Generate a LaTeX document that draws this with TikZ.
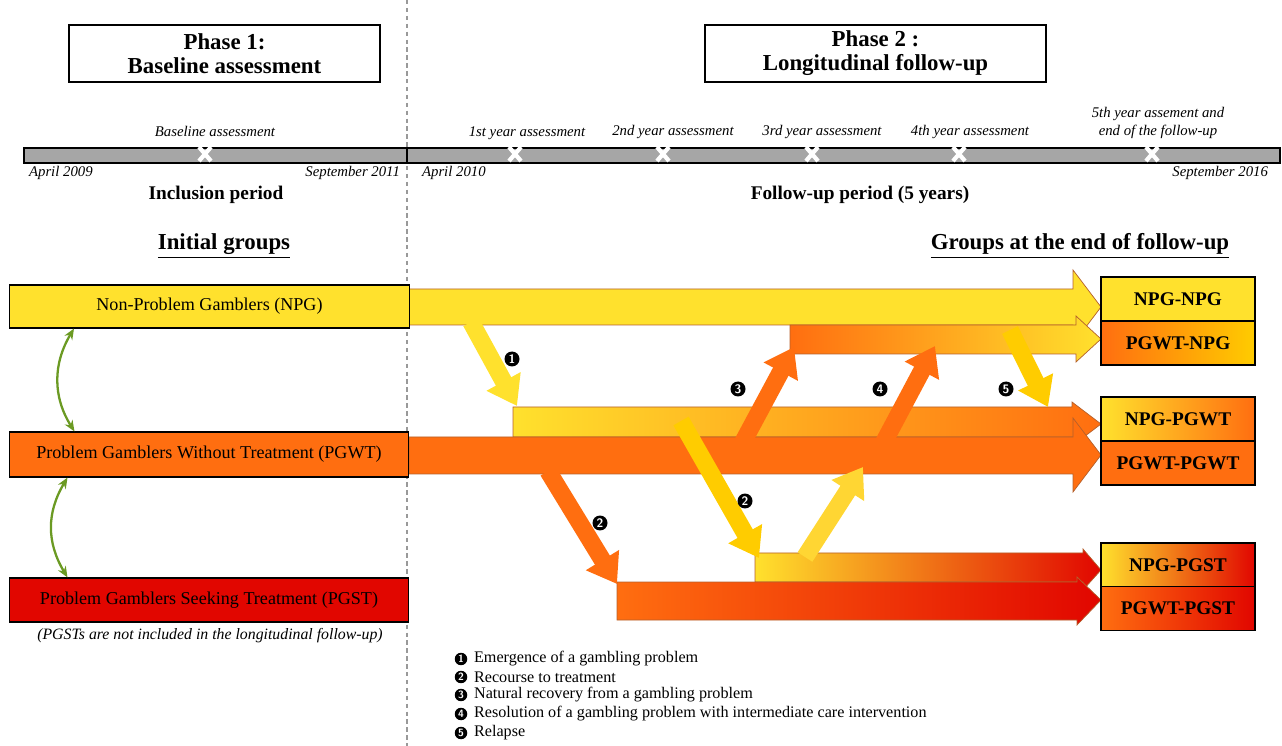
\documentclass[tikz,border=0pt]{standalone}
\usepackage{fontspec}
\setmainfont{Liberation Serif}
\usetikzlibrary{arrows.meta,calc}
\definecolor{cyel}{HTML}{FFE12D}
\definecolor{corg}{HTML}{FF6E10}
\definecolor{cred}{HTML}{E10600}
\definecolor{cgold}{HTML}{FFCC00}
\definecolor{clyel}{HTML}{FFD633}
\definecolor{cgrn}{HTML}{6B9A23}
\definecolor{cbar}{HTML}{A6A6A6}
\definecolor{cedge}{HTML}{B4602C}
\begin{document}
\begin{tikzpicture}[x=0.02cm,y=-0.02cm,
  phasebox/.style={draw, line width=0.9pt, fill=white, minimum height=1.14cm, align=center,
    font=\bfseries\fontsize{13}{13.6}\selectfont},
  grp/.style={draw, line width=0.6pt, minimum width=8cm, minimum height=0.88cm,
    font=\rmfamily\fontsize{10.3}{12}\selectfont},
  rbox/.style={draw, line width=0.7pt, minimum width=3.08cm, minimum height=0.88cm,
    font=\bfseries\fontsize{11}{12}\selectfont},
  ital/.style={font=\itshape\fontsize{8.4}{10}\selectfont, inner sep=1pt},
  head/.style={font=\bfseries\fontsize{11}{12}\selectfont, inner sep=1pt},
  ulhead/.style={font=\bfseries\fontsize{13}{14}\selectfont, inner sep=1pt},
  numc/.style={circle, fill=black, text=white, inner sep=0pt, minimum size=0.3cm,
    font=\sffamily\bfseries\fontsize{7}{7}\selectfont},
  legc/.style={circle, fill=black, text=white, inner sep=0pt, minimum size=0.25cm,
    font=\sffamily\bfseries\fontsize{6}{6}\selectfont},
  leg/.style={font=\rmfamily\fontsize{9.2}{11}\selectfont, inner sep=1pt, anchor=west},
  blk/.style={draw=cedge, line width=0.4pt},
  darr/.style={line width=0.35cm, -{Triangle[length=0.56cm,width=0.74cm]}},
  grnarr/.style={draw=cgrn, line width=1.3pt, {Stealth[length=0.22cm,width=0.18cm]}-{Stealth[length=0.22cm,width=0.18cm]}}
]
\useasboundingbox (0,0) rectangle (1282,746);

% dashed separator
\draw[gray!80, line width=0.8pt, dash pattern=on 2.5pt off 2pt] (407,0) -- (407,746);

% phase boxes
\node[phasebox, minimum width=6.22cm] (ph1) at (224.5,53.5) {Phase 1:\\Baseline assessment};
\node[phasebox, minimum width=6.82cm] (ph2) at (875.5,53.5) {Phase 2 :\\Longitudinal follow-up};

% timeline
\draw[fill=cbar, line width=0.8pt] (24,148) rectangle (407,163);
\draw[fill=cbar, line width=0.8pt] (407,148) rectangle (1280,163);
\foreach \x in {205,515,663,812,959,1152}
  \draw[white, line width=2.4pt] (\x-6,147) -- (\x+6,161) (\x+6,147) -- (\x-6,161);

\node[ital] (t0) at (215,131) {Baseline assessment};
\node[ital] (t1) at (527,133) {1st year assessment};
\node[ital] (t2) at (673,132) {2nd year assessment};
\node[ital] (t3) at (822,132) {3rd year assessment};
\node[ital] (t4) at (970,132) {4th year assessment};
\node[ital, align=center] (t5) at (1158,123) {5th year assement and\\end of the follow-up};
\node[ital, anchor=west] (d1) at (27,173) {April 2009};
\node[ital, anchor=east] (d2) at (402,173) {September 2011};
\node[ital, anchor=west] (d3) at (420,173) {April 2010};
\node[ital, anchor=east] (d4) at (1270,173) {September 2016};
\node[head] (inc) at (216,195) {Inclusion period};
\node[head] (fol) at (860,195) {Follow-up period (5 years)};
\node[ulhead] (ig) at (224,246) {\underline{Initial groups}};
\node[ulhead] (eg) at (1080,246) {\underline{Groups at the end of follow-up}};

% big horizontal arrows
\draw[blk, fill=cyel] (409,289) -- (1073,289) -- (1073,270) -- (1101,307) -- (1073,344) -- (1073,325) -- (409,325) -- cycle;
\draw[blk, left color=corg, right color=cyel] (790,325) -- (1076,325) -- (1076,316) -- (1101,339) -- (1076,362) -- (1076,354) -- (790,354) -- cycle;
\draw[blk, left color=cyel, right color=corg] (513,407) -- (1072,407) -- (1072,402) -- (1101,424) -- (1072,446) -- (1072,437) -- (513,437) -- cycle;
\draw[blk, fill=corg] (409,437) -- (1073,437) -- (1073,418) -- (1101,455) -- (1073,492) -- (1073,474) -- (409,474) -- cycle;
\draw[blk, left color=cyel, middle color=corg!80!cyel, right color=cred] (755,553) -- (1083,553) -- (1083,549) -- (1101,570) -- (1083,590) -- (1083,582) -- (755,582) -- cycle;
\draw[blk, left color=corg, right color=cred] (617,582) -- (1077,582) -- (1077,577) -- (1101,600) -- (1077,625) -- (1077,620) -- (617,620) -- cycle;

% diagonal transition arrows
\coordinate (a1s) at (471,322); \coordinate (a1e) at (517,406);
\coordinate (a2s) at (548,471); \coordinate (a2e) at (617,584);
\coordinate (b2s) at (681,421); \coordinate (b2e) at (759,558);
\coordinate (a3s) at (743,442); \coordinate (a3e) at (794,347);
\coordinate (a4s) at (884,442); \coordinate (a4e) at (935,346);
\coordinate (b4s) at (805,557); \coordinate (b4e) at (863,467);
\coordinate (a5s) at (1010,330); \coordinate (a5e) at (1048,407);
\draw[darr, draw=cyel] (a1s) -- (a1e);
\draw[darr, draw=corg] (a2s) -- (a2e);
\draw[darr, draw=cgold] (b2s) -- (b2e);
\draw[darr, draw=corg] (a3s) -- (a3e);
\draw[darr, draw=corg] (a4s) -- (a4e);
\draw[darr, draw=clyel] (b4s) -- (b4e);
\draw[darr, draw=cgold] (a5s) -- (a5e);

\node[numc] (n1) at (512,359) {1};
\node[numc] (n2a) at (600,523) {2};
\node[numc] (n2b) at (745,501) {2};
\node[numc] (n3) at (738,389) {3};
\node[numc] (n4) at (880,389) {4};
\node[numc] (n5) at (1006,389) {5};

% initial groups
\node[grp, fill=cyel, minimum height=0.86cm] (NPG) at (209.5,306.5) {Non-Problem Gamblers (NPG)};
\node[grp, fill=corg, minimum height=0.9cm] (PGWT) at (209,454.5) {Problem Gamblers Without Treatment (PGWT)};
\node[grp, fill=cred] (PGST) at (209,600) {Problem Gamblers Seeking Treatment (PGST)};
\node[font=\itshape\fontsize{9}{11}\selectfont, inner sep=1pt] (note) at (210,636) {(PGSTs are not included in the longitudinal follow-up)};

\draw[grnarr] ($(NPG.south west)+(65,0)$) .. controls ($(NPG.south west)+(44,35)$) and ($(PGWT.north west)+(44,-35)$) .. ($(PGWT.north west)+(66,0)$);
\draw[grnarr] ($(PGWT.south west)+(59,0)$) .. controls ($(PGWT.south west)+(38,35)$) and ($(PGST.north west)+(38,-35)$) .. ($(PGST.north west)+(59,0)$);

% final groups
\node[rbox, fill=cyel] (r1) at (1178,299) {NPG-NPG};
\node[rbox, left color=corg, right color=cgold] (r2) at (1178,343) {PGWT-NPG};
\node[rbox, left color=cyel, right color=corg] (r3) at (1178,419) {NPG-PGWT};
\node[rbox, fill=corg] (r4) at (1178,463) {PGWT-PGWT};
\node[rbox, left color=cyel, right color=cred] (r5) at (1178,565) {NPG-PGST};
\node[rbox, left color=corg, right color=cred] (r6) at (1178,608.5) {PGWT-PGST};

% legend
\node[legc] (l1) at (461,659) {1};
\node[leg] (lt1) at (472,659) {Emergence of a gambling problem};
\node[legc] (l2) at (461,677) {2};
\node[leg] (lt2) at (472,677) {Recourse to treatment};
\node[legc] (l3) at (461,695) {3};
\node[leg] (lt3) at (472,695) {Natural recovery from a gambling problem};
\node[legc] (l4) at (461,714) {4};
\node[leg] (lt4) at (472,714) {Resolution of a gambling problem with intermediate care intervention};
\node[legc] (l5) at (461,733) {5};
\node[leg] (lt5) at (472,733) {Relapse};
\end{tikzpicture}
\end{document}
